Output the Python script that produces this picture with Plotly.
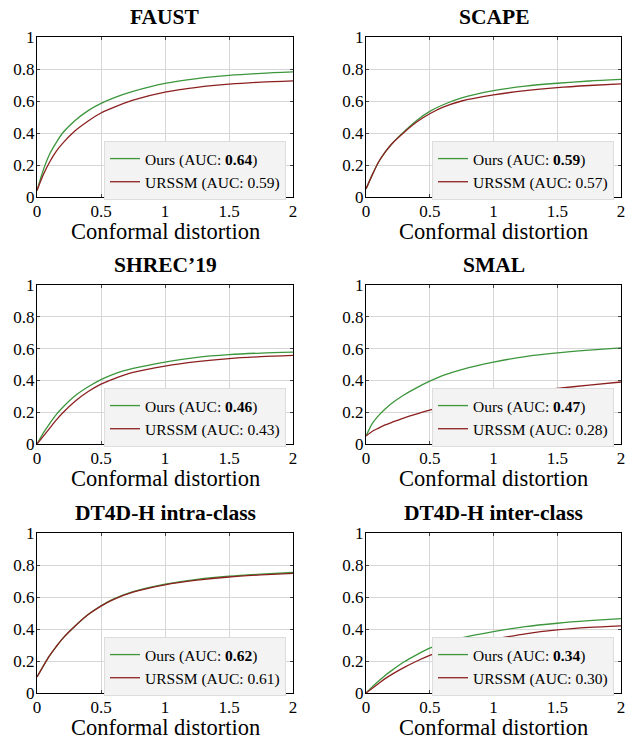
import plotly.graph_objects as go

# page body has an 8px default margin, so the figure is drawn 8px in from the corner
OFF = 8
W, H = 633 - OFF, 736 - OFF

x_vals = [0, 0.05, 0.1, 0.15, 0.2, 0.3, 0.4, 0.5, 0.6, 0.75, 1.0, 1.25, 1.5, 1.75, 2.0]

titles = ["FAUST", "SCAPE", "SHREC’19", "SMAL", "DT4D-H intra-class", "DT4D-H inter-class"]
x_title = "Conformal distortion"
auc_ours = ["0.64", "0.59", "0.46", "0.47", "0.62", "0.34"]
auc_urssm = ["0.59", "0.57", "0.43", "0.28", "0.61", "0.30"]

faust_ours = [0.04, 0.17, 0.27, 0.34, 0.40, 0.48, 0.54, 0.585, 0.62, 0.66, 0.71, 0.74, 0.76, 0.773, 0.782]
faust_urssm = [0.04, 0.14, 0.22, 0.285, 0.335, 0.415, 0.475, 0.525, 0.56, 0.605, 0.655, 0.685, 0.705, 0.718, 0.726]
scape_ours = [0.05, 0.14, 0.22, 0.28, 0.33, 0.41, 0.48, 0.535, 0.575, 0.62, 0.665, 0.693, 0.711, 0.725, 0.735]
scape_urssm = [0.05, 0.14, 0.22, 0.28, 0.33, 0.405, 0.47, 0.52, 0.56, 0.60, 0.638, 0.665, 0.684, 0.697, 0.707]
shrec_ours = [0.0, 0.07, 0.13, 0.185, 0.23, 0.305, 0.36, 0.405, 0.44, 0.475, 0.515, 0.545, 0.562, 0.572, 0.578]
shrec_urssm = [0.0, 0.05, 0.10, 0.15, 0.195, 0.27, 0.33, 0.377, 0.41, 0.45, 0.49, 0.518, 0.537, 0.549, 0.557]
smal_ours = [0.05, 0.13, 0.18, 0.22, 0.255, 0.31, 0.355, 0.395, 0.43, 0.468, 0.515, 0.55, 0.573, 0.59, 0.604]
smal_urssm = [0.05, 0.08, 0.10, 0.12, 0.135, 0.165, 0.19, 0.213, 0.235, 0.263, 0.30, 0.327, 0.35, 0.37, 0.39]
intra_ours = [0.10, 0.17, 0.235, 0.29, 0.34, 0.42, 0.49, 0.545, 0.588, 0.633, 0.68, 0.71, 0.73, 0.743, 0.753]
intra_urssm = [0.10, 0.17, 0.235, 0.29, 0.34, 0.42, 0.49, 0.543, 0.585, 0.63, 0.676, 0.705, 0.725, 0.738, 0.748]
inter_ours = [0.0, 0.04, 0.075, 0.11, 0.14, 0.195, 0.24, 0.28, 0.31, 0.345, 0.384, 0.415, 0.436, 0.452, 0.465]
inter_urssm = [0.0, 0.03, 0.06, 0.09, 0.115, 0.16, 0.20, 0.235, 0.265, 0.30, 0.336, 0.37, 0.394, 0.41, 0.42]

ours_series = [faust_ours, scape_ours, shrec_ours, smal_ours, intra_ours, inter_ours]
urssm_series = [faust_urssm, scape_urssm, shrec_urssm, smal_urssm, intra_urssm, inter_urssm]

x_ticks = [0, 0.5, 1, 1.5, 2]
x_ticklabels = ["0", "0.5", "1", "1.5", "2"]
y_ticks = [0, 0.2, 0.4, 0.6, 0.8, 1]
y_ticklabels = ["0", "0.2", "0.4", "0.6", "0.8", "1"]

GREEN = "#3c963c"
RED = "#8c2020"
FONT = "Liberation Serif"

# pixel layout of plot areas (page coordinates)
col_px = [(37, 293), (366, 621)]
row_px = [(37, 197), (285, 444), (533, 693)]

fig = go.Figure()
layout = dict(
    width=W, height=H, margin=dict(l=0, r=0, t=0, b=0, autoexpand=False),
    paper_bgcolor="white", plot_bgcolor="white",
    font=dict(family=FONT, color="black"),
    annotations=[],
)


def px_x(p):
    return (p - OFF) / W


def px_y(p):
    return 1 - (p - OFF) / H


for i in range(6):
    r, c = divmod(i, 2)
    x0, x1 = col_px[c]
    top, bot = row_px[r]
    ax = "" if i == 0 else str(i + 1)
    leg = "legend" if i == 0 else "legend" + str(i + 1)
    fig.add_trace(go.Scatter(
        x=x_vals, y=ours_series[i], mode="lines",
        line=dict(color=GREEN, width=1.3, shape="spline", smoothing=0.8),
        name="Ours (AUC: <b>" + auc_ours[i] + "</b>)", xaxis="x" + ax, yaxis="y" + ax, legend=leg,
    ))
    fig.add_trace(go.Scatter(
        x=x_vals, y=urssm_series[i], mode="lines",
        line=dict(color=RED, width=1.3, shape="spline", smoothing=0.8),
        name="URSSM (AUC: " + auc_urssm[i] + ")", xaxis="x" + ax, yaxis="y" + ax, legend=leg,
    ))
    layout["xaxis" + ax] = dict(
        domain=[px_x(x0), px_x(x1)], anchor="y" + ax, range=[0, 2], automargin=False,
        tickvals=x_ticks, ticktext=x_ticklabels,
        showgrid=True, gridcolor="#d6d6d6", gridwidth=1,
        showline=True, linecolor="black", linewidth=1, mirror="ticks",
        ticks="inside", ticklen=3, tickcolor="#444", zeroline=False,
        tickfont=dict(size=17, family=FONT), ticklabelstandoff=-1,
    )
    layout["yaxis" + ax] = dict(
        domain=[px_y(bot), px_y(top)], anchor="x" + ax, range=[0, 1], automargin=False,
        tickvals=y_ticks, ticktext=y_ticklabels,
        showgrid=True, gridcolor="#d6d6d6", gridwidth=1,
        showline=True, linecolor="black", linewidth=1, mirror="ticks",
        ticks="inside", ticklen=3, tickcolor="#444", zeroline=False,
        tickfont=dict(size=17, family=FONT), ticklabelstandoff=-2,
    )
    layout[leg] = dict(
        x=px_x(x1 - 7), y=px_y(bot + 3), xanchor="right", yanchor="bottom",
        xref="paper", yref="paper",
        bgcolor="#f3f3f3", bordercolor="#dddddd", borderwidth=1,
        font=dict(size=15.5, family=FONT, color="black"),
        tracegroupgap=0, itemwidth=30,
    )
    layout["annotations"].append(dict(
        text="<b>" + titles[i] + "</b>", x=px_x((x0 + x1) / 2), y=px_y(top - 7),
        xref="paper", yref="paper", xanchor="center", yanchor="bottom", borderpad=0,
        showarrow=False, font=dict(size=21.5, family=FONT, color="black"),
    ))
    layout["annotations"].append(dict(
        text=x_title, x=px_x((x0 + x1) / 2), y=px_y(bot + 21),
        xref="paper", yref="paper", xanchor="center", yanchor="top", borderpad=0,
        showarrow=False, font=dict(size=22.5, family=FONT, color="black"),
    ))

fig.update_layout(**layout)
fig.write_html("out.html")
